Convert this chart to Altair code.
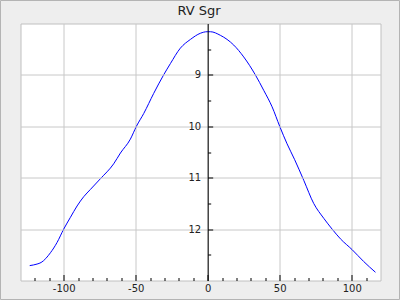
import altair as alt
import pandas as pd

title_text = "RV Sgr"

phase = [-123.6, -118.5, -115.7, -109.2, -104.6, -100.0, -95.3, -90.7, -86.1, -81.5,
         -74.5, -65.3, -60.6, -53.7, -49.5, -44.4, -37.5, -30.6, -25.9, -19.0,
         -12.0, -5.1, -0.4, 1.9, 8.8, 18.1, 25.0, 33.1, 38.9, 44.7,
         50.0, 55.1, 60.4, 66.7, 73.6, 80.6, 86.4, 92.2, 100.3, 108.3, 116.5]
mag = [12.71, 12.68, 12.65, 12.46, 12.26, 12.00, 11.77, 11.55, 11.37, 11.23,
       11.02, 10.73, 10.52, 10.25, 10.00, 9.75, 9.36, 9.00, 8.78, 8.48,
       8.31, 8.19, 8.16, 8.16, 8.23, 8.42, 8.65, 9.00, 9.30, 9.62,
       10.00, 10.34, 10.65, 11.05, 11.50, 11.79, 12.00, 12.19, 12.40, 12.63, 12.84]

x_label_values = [-100, -50, 0, 50, 100]
x_tick_values = [-120, -110, -100, -90, -80, -70, -60, -50, -40, -30, -20, -10,
                 0, 10, 20, 30, 40, 50, 60, 70, 80, 90, 100, 110]
y_label_values = [9, 10, 11, 12]
y_tick_values = [8.5, 9, 9.5, 10, 10.5, 11, 11.5, 12, 12.5]

x_domain = [-130, 120]
y_domain = [8, 13]

df = pd.DataFrame({"phase": phase, "mag": mag})

W, H = 360, 257
xs = alt.Scale(domain=x_domain, nice=False, zero=False)
ys = alt.Scale(domain=y_domain, reverse=True, nice=False, zero=False)

GRID = "#c8c8c8"

line = alt.Chart(df).mark_line(color="#0000ff", strokeWidth=1, clip=True,
                               interpolate="monotone").encode(
    x=alt.X("phase:Q", scale=xs, axis=alt.Axis(
        orient="bottom", values=x_label_values, ticks=False, domain=False,
        grid=True, gridColor=GRID, gridOpacity=1, labelPadding=3, title=None,
        labelExpr="'' + datum.value", labelFlush=False)),
    y=alt.Y("mag:Q", scale=ys, axis=alt.Axis(
        orient="left", offset=-187.2, values=y_label_values, ticks=False,
        domain=True, domainColor="#000000", domainWidth=1,
        grid=True, gridColor=GRID, gridOpacity=1, labelPadding=7, title=None,
        labelExpr="'' + datum.value", zindex=1)),
)

tick_layer = alt.Chart(df).mark_line(strokeOpacity=0).encode(
    x=alt.X("phase:Q", scale=xs, axis=alt.Axis(
        orient="top", offset=-H, values=x_tick_values, labels=False, domain=False,
        grid=False, tickColor="#000000", tickWidth=1,
        tickSize={"condition": {"test": "datum.value % 50 == 0", "value": 6}, "value": 3},
        title=None, zindex=1)),
    y=alt.Y("mag:Q", scale=ys, axis=alt.Axis(
        orient="right", offset=-(W - 187.2), values=y_tick_values, labels=False,
        domain=False, grid=False, tickColor="#000000", tickWidth=1,
        tickSize={"condition": {"test": "datum.value % 1 == 0", "value": 5}, "value": 3},
        title=None, zindex=1)),
)

border = alt.Chart(alt.Data(values=[{}])).mark_rect(
    filled=False, stroke="#b4b4b4", strokeWidth=1, clip=False
).encode(
    x=alt.value(-20), x2=alt.value(379), y=alt.value(-23), y2=alt.value(276)
)

title = alt.Chart(alt.Data(values=[{}])).mark_text(
    text=title_text, font="DejaVu Sans", fontSize=13, color="#222222",
    align="center", baseline="alphabetic", clip=False
).encode(x=alt.value(178.5), y=alt.value(-8.2))

chart = alt.layer(line, tick_layer, border, title).resolve_axis(
    x="independent", y="independent"
).properties(
    width=W, height=H,
    padding={"left": 20.5, "top": 23.5, "right": 19.5, "bottom": 19.5},
    autosize=alt.AutoSizeParams(type="none"),
    background="#eeeeee",
).configure_view(
    fill="white", stroke="#c0c0c0", strokeWidth=1
).configure_axis(
    labelFont="DejaVu Sans", labelFontSize=10, labelColor="#222222"
)

chart.save("out.html", embed_options={"renderer": "svg", "actions": False})
